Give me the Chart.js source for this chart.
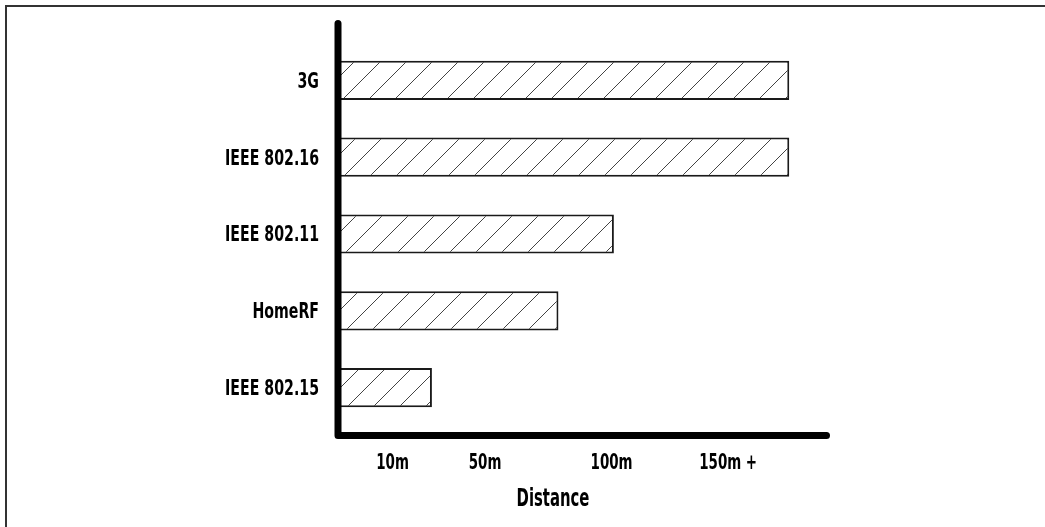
<!DOCTYPE html>
<html>
<head>
<meta charset="utf-8">
<script src="https://cdn.jsdelivr.net/npm/chart.js@4.4.1/dist/chart.umd.min.js"></script>
<style>
  html, body { margin: 0; padding: 0; background: #fff; overflow: hidden; }
  #frame {
    position: absolute; left: 5px; top: 5px; width: 1100px; height: 600px;
    border-top: 2px solid #333; border-left: 2px solid #333;
  }
  #chart { position: absolute; left: 0; top: 0; }
</style>
</head>
<body>
<div id="frame"></div>
<canvas id="chart" width="1045" height="527"></canvas>
<script>
// technologies, top to bottom
const technologies = ['3G', 'IEEE 802.16', 'IEEE 802.11', 'HomeRF', 'IEEE 802.15'];
// range in metres
const distances = [177, 177, 101, 79, 27];
const tickValues = [10, 50, 100, 150];
const tickLabels = ['10m', '50m', '100m', '150m +'];
const axisTitle = 'Distance';

// the distance axis in the picture is not linear, so map it piecewise
const knotValues = [0, 10, 50, 100, 150, 195];
const knotFractions = [0, 0.111, 0.299, 0.556, 0.793, 1];

// no narrow font installed, so condensed DejaVu gets squeezed a bit more
const fontFamily = "'DejaVu Sans Condensed', 'DejaVu Sans', sans-serif";

class PiecewiseScale extends Chart.LinearScale {
  static id = 'piecewise';
  static defaults = {};

  getPixelForValue(value) {
    let f = 0;
    for (let i = 1; i < knotValues.length; i++) {
      if (value <= knotValues[i] || i === knotValues.length - 1) {
        const t = (value - knotValues[i - 1]) / (knotValues[i] - knotValues[i - 1]);
        f = knotFractions[i - 1] + t * (knotFractions[i] - knotFractions[i - 1]);
        break;
      }
    }
    return this.left + f * this.width;
  }

  getValueForPixel(pixel) {
    const f = (pixel - this.left) / this.width;
    for (let i = 1; i < knotFractions.length; i++) {
      if (f <= knotFractions[i] || i === knotFractions.length - 1) {
        const t = (f - knotFractions[i - 1]) / (knotFractions[i] - knotFractions[i - 1]);
        return knotValues[i - 1] + t * (knotValues[i] - knotValues[i - 1]);
      }
    }
    return 0;
  }
}
Chart.register(PiecewiseScale);

const makeHatch = () => {
  const s = 26;
  const c = document.createElement('canvas');
  c.width = s;
  c.height = s;
  const ctx = c.getContext('2d');
  ctx.fillStyle = '#fff';
  ctx.fillRect(0, 0, s, s);
  ctx.strokeStyle = '#444';
  ctx.lineWidth = 1;
  ctx.beginPath();
  ctx.moveTo(0, s); ctx.lineTo(s, 0);
  ctx.moveTo(-2, 2); ctx.lineTo(2, -2);
  ctx.moveTo(s - 2, s + 2); ctx.lineTo(s + 2, s - 2);
  ctx.stroke();
  return ctx.createPattern(c, 'repeat');
};

// thick black axes that run a little past the plot area
const axesPlugin = {
  id: 'thickAxes',
  afterDatasetsDraw(chart) {
    const { ctx, chartArea } = chart;
    const x0 = chart.scales.x.getPixelForValue(0);
    const yBase = chartArea.bottom + 9.5;
    ctx.save();
    ctx.strokeStyle = '#000';
    ctx.lineWidth = 7;
    ctx.lineCap = 'round';
    ctx.lineJoin = 'round';
    ctx.beginPath();
    ctx.moveTo(x0, chartArea.top - 18.5);
    ctx.lineTo(x0, yBase);
    ctx.lineTo(chartArea.right - 3.5, yBase);
    ctx.stroke();
    ctx.restore();
  }
};

const squeezedText = (ctx, text, x, y, size, sx, align) => {
  ctx.save();
  ctx.translate(x, y);
  ctx.scale(sx, 1);
  ctx.font = 'bold ' + size + 'px ' + fontFamily;
  ctx.fillStyle = '#000';
  ctx.textAlign = align;
  ctx.textBaseline = 'middle';
  ctx.fillText(text, 0, 0);
  ctx.restore();
};

// labels drawn by hand so they can be squeezed like the condensed face in the picture
const labelsPlugin = {
  id: 'squeezedLabels',
  afterDraw(chart) {
    const { ctx, chartArea } = chart;
    const xs = chart.scales.x;
    const ys = chart.scales.y;
    technologies.forEach((name, i) => {
      squeezedText(ctx, name, chartArea.left - 19, ys.getPixelForTick(i) + 2, 21, 0.75, 'right');
    });
    tickValues.forEach((v, i) => {
      squeezedText(ctx, tickLabels[i], xs.getPixelForValue(v), chartArea.bottom + 38, 21, 0.71, 'center');
    });
    squeezedText(ctx, axisTitle, chartArea.left + 0.437 * chartArea.width, chartArea.bottom + 73, 25, 0.66, 'center');
  }
};

new Chart(document.getElementById('chart'), {
  type: 'bar',
  data: {
    labels: technologies,
    datasets: [{
      data: distances,
      backgroundColor: makeHatch(),
      borderColor: '#1a1a1a',
      borderWidth: 2,
      borderSkipped: false,
      barPercentage: 0.51,
      categoryPercentage: 1
    }]
  },
  options: {
    indexAxis: 'y',
    responsive: false,
    animation: false,
    devicePixelRatio: 1,
    layout: { padding: { top: 42, right: 215, left: 0, bottom: 0 } },
    plugins: {
      legend: { display: false },
      tooltip: { enabled: false }
    },
    scales: {
      x: {
        type: 'piecewise',
        min: 0,
        max: 195,
        grid: { display: false, drawTicks: false },
        border: { display: false },
        afterBuildTicks: (scale) => {
          scale.ticks = tickValues.map(v => ({ value: v }));
        },
        afterFit: (scale) => { scale.height = 101; },
        ticks: { display: false }
      },
      y: {
        grid: { display: false, drawTicks: false },
        border: { display: false },
        afterFit: (scale) => { scale.width = 338; },
        ticks: { display: false }
      }
    }
  },
  plugins: [axesPlugin, labelsPlugin]
});
</script>
</body>
</html>
